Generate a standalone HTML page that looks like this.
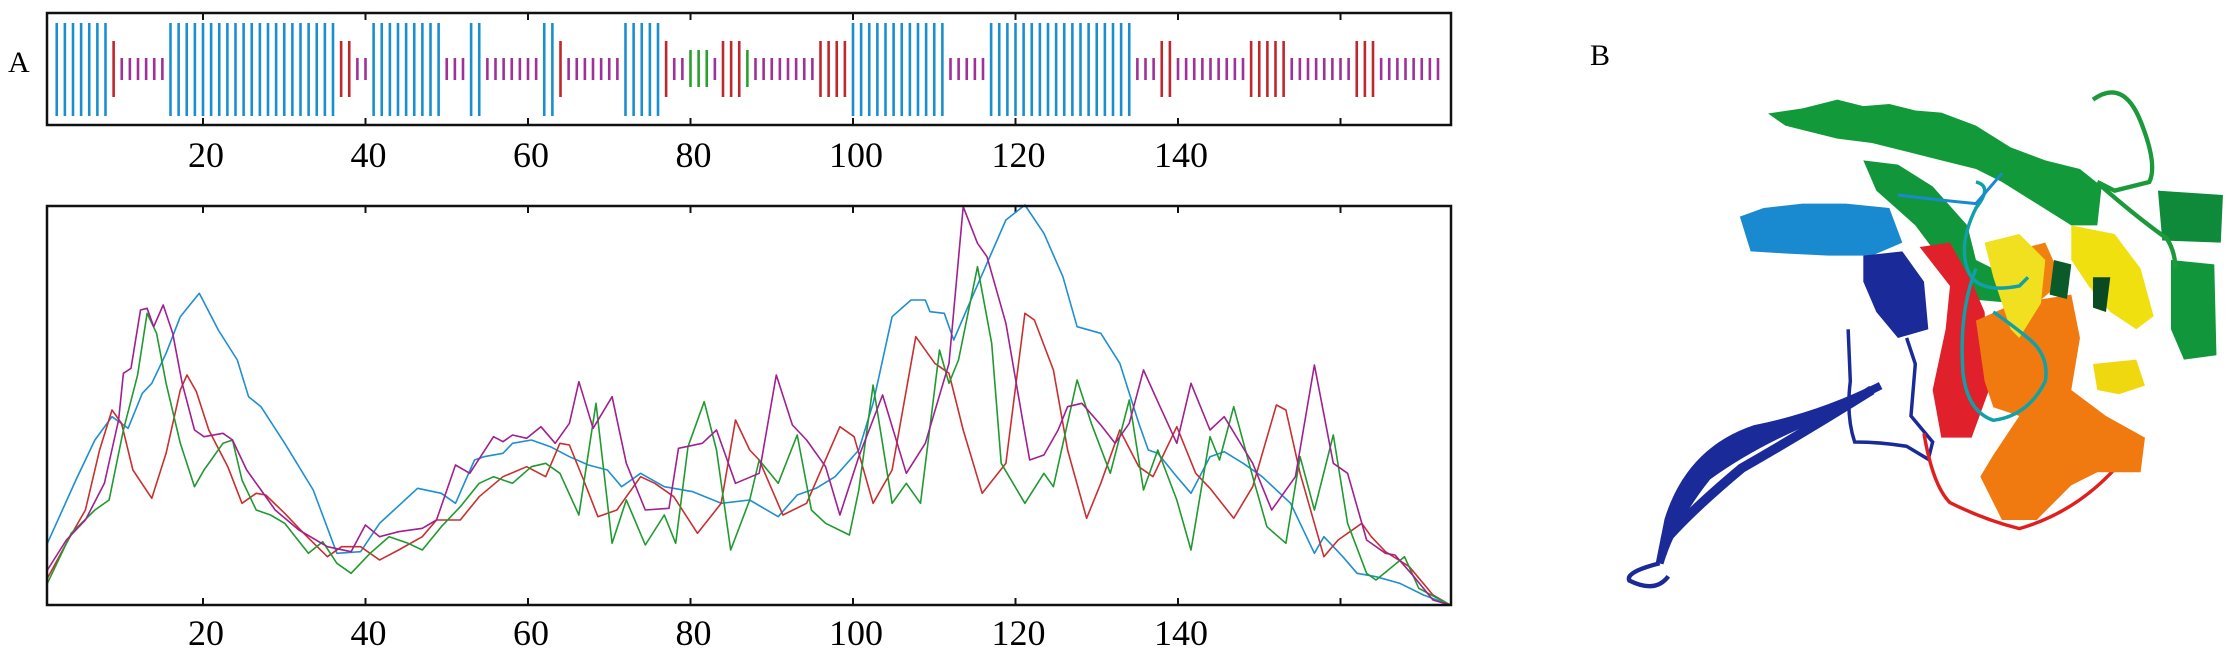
<!DOCTYPE html>
<html><head><meta charset="utf-8"><style>
html,body{margin:0;padding:0;background:#fff;}
body{width:2236px;height:662px;overflow:hidden;}
svg{display:block}
text{font-family:"Liberation Serif",serif;fill:#000}
</style></head><body>
<svg id="s" width="2236" height="662" xmlns="http://www.w3.org/2000/svg">
<rect width="2236" height="662" fill="#fff"/>
<g id="bars"></g>
<rect x="47" y="13" width="1404" height="112" fill="none" stroke="#111" stroke-width="2.5"/>
<g id="ticks"></g>
<text x="8" y="72" font-size="30">A</text>
<g id="lab1" font-size="36" text-anchor="middle"></g>
<g id="lines" fill="none" stroke-width="1.6" stroke-linejoin="round"></g>
<rect x="47" y="206" width="1404" height="399" fill="none" stroke="#111" stroke-width="2.5"/>
<g id="lab2" font-size="36" text-anchor="middle"></g>
<text x="1590" y="65" font-size="30">B</text>
<g transform="translate(1560,0) scale(0.4333)">
 <path d="M480,262 L560,250 L600,240 L640,230 L700,245 L760,240 L820,255 L880,260 L960,290 L1040,340 L1120,370 L1200,390 L1250,430 L1240,520 L1180,520 L1100,470 L1020,420 L960,390 L880,370 L800,350 L720,330 L640,320 L560,300 L520,290 Z" fill="#129a3a"/>
 <path d="M700,370 L780,380 L860,430 L940,520 L960,600 L1060,650 L1050,700 L940,690 L880,600 L820,520 L730,440 Z" fill="#11963c"/>
 <path d="M1230,230 Q1300,180 1340,280 Q1380,380 1360,420 L1280,440 L1240,420" fill="none" stroke="#1a9a3a" stroke-width="10"/>
 <path d="M1380,440 L1530,450 L1525,560 L1390,555 Z" fill="#0f8a3a"/>
 <path d="M1410,600 L1510,610 L1515,820 L1440,830 L1410,760 Z" fill="#11963c"/>
 <path d="M1250,430 Q1330,500 1400,550 Q1420,580 1420,620" fill="none" stroke="#1a9a3a" stroke-width="10"/>
 <path d="M415,500 L470,480 L560,470 L660,470 L760,480 L790,560 L720,590 L620,590 L520,585 L440,580 Z" fill="#1a8ad0"/>
 <path d="M700,590 L790,580 L840,650 L850,760 L780,780 L730,720 L700,650 Z" fill="#1a2a98"/>
 <path d="M740,890 Q600,960 450,990 Q300,1040 250,1200 L230,1300 Q260,1200 340,1100 Q450,1020 600,960 Q680,920 740,890 Z" fill="#1a2a98" stroke="#1a2a98" stroke-width="18"/>
 <path d="M720,900 Q560,1000 420,1080 Q300,1180 240,1250" fill="none" stroke="#1a2a98" stroke-width="22"/>
 <path d="M230,1300 Q150,1320 160,1340 Q220,1370 250,1330" fill="none" stroke="#1a2a98" stroke-width="10"/>
 <path d="M665,760 L670,880 Q660,960 680,1020 Q740,1020 800,1030 L850,1060 L860,1020 L810,960 L820,840 L800,780" fill="none" stroke="#1a2a98" stroke-width="8"/>
 <path d="M830,570 L900,560 L950,650 L980,720 L990,900 L950,1010 L880,1010 L860,900 L890,760 L900,660 Z" fill="#e0202a"/>
 <path d="M840,1000 Q860,1120 900,1160 Q980,1200 1060,1220 Q1200,1180 1300,1060" fill="none" stroke="#e02020" stroke-width="8"/>
 <path d="M960,740 L1050,700 L1180,680 L1200,780 L1180,900 L1260,960 L1350,1010 L1340,1090 L1240,1090 L1180,1120 L1100,1200 L1020,1200 L970,1100 L1000,1050 L1060,960 L1000,940 L980,880 Z" fill="#f07a10"/>
 <path d="M1040,580 L1120,560 L1160,650 L1100,700 L1040,680 Z" fill="#f08010"/>
 <path d="M980,560 L1060,540 L1120,600 L1110,700 L1060,780 L1040,760 L1000,640 Z" fill="#f0e020"/>
 <path d="M1180,520 L1280,540 L1340,620 L1370,730 L1330,760 L1270,720 L1220,660 L1180,600 Z" fill="#f0e010"/>
 <path d="M1230,840 L1330,830 L1350,890 L1290,910 L1240,900 Z" fill="#f0d810"/>
 <path d="M1140,600 L1180,610 L1170,690 L1130,680 Z" fill="#0a5a2a"/>
 <path d="M1230,640 L1270,640 L1260,720 L1230,710 Z" fill="#0a4a22"/>
 <path d="M960,420 Q1000,430 960,480 Q920,560 940,620 Q960,680 1060,660 L1080,640 M960,620 Q920,720 930,860 Q940,950 1000,970 Q1080,960 1120,880 Q1130,820 1080,780 Q1030,740 1000,720" fill="none" stroke="#10a0a8" stroke-width="8"/>
 <path d="M780,450 Q860,460 960,470 L1020,400" fill="none" stroke="#1a8ad0" stroke-width="7"/>
</g>
</svg>
<script>
(function(){
var NS="http://www.w3.org/2000/svg";
function el(p,t,a,txt){var e=document.createElementNS(NS,t);for(var k in a)e.setAttribute(k,a[k]);if(txt)e.textContent=txt;p.appendChild(e);return e;}
function X(i){return 40.5+8.125*i;}
var segs=[[2,8,'b'],[9,9,'r'],[10,15,'m'],[16,36,'b'],[37,38,'r'],[39,40,'m'],[41,49,'b'],[50,52,'m'],[53,54,'b'],[55,61,'m'],[62,63,'b'],[64,64,'r'],[65,71,'m'],[72,76,'b'],[77,77,'r'],[78,79,'m'],[80,82,'g'],[83,83,'m'],[84,86,'r'],[87,87,'g'],[88,95,'m'],[96,99,'r'],[100,111,'b'],[112,116,'m'],[117,134,'b'],[135,137,'m'],[138,139,'r'],[140,148,'m'],[149,153,'r'],[154,161,'m'],[162,164,'r'],[165,172,'m']];
var sty={b:['#1a8fd0',23,116],r:['#c0272d',41,97],m:['#a0309a',58,80],g:['#2ca02c',50,87]};
var bars=document.getElementById('bars');
segs.forEach(function(s){for(var i=s[0];i<=s[1];i++){var c=sty[s[2]];el(bars,'line',{x1:X(i),x2:X(i),y1:c[1],y2:c[2],stroke:c[0],'stroke-width':2.6});}});
var tk=document.getElementById('ticks'),l1=document.getElementById('lab1'),l2=document.getElementById('lab2');
for(var v=20;v<=160;v+=20){var x=X(v);
 el(tk,'line',{x1:x,x2:x,y1:13,y2:20,stroke:'#111','stroke-width':2});
 el(tk,'line',{x1:x,x2:x,y1:118,y2:125,stroke:'#111','stroke-width':2});
 el(tk,'line',{x1:x,x2:x,y1:206,y2:213,stroke:'#111','stroke-width':2});
 el(tk,'line',{x1:x,x2:x,y1:598,y2:605,stroke:'#111','stroke-width':2});
 if(v<160){el(l1,'text',{x:x+3,y:167},String(v));el(l2,'text',{x:x+3,y:645},String(v));}
}
var S={
'#1f8fd0':[50,1060,80,870,100,750,118,680,135,715,150,610,160,580,175,490,190,380,210,310,230,420,250,510,262,620,275,650,300,760,330,900,355,1090,380,1085,400,1000,440,895,465,910,480,940,500,810,510,800,530,790,540,760,560,750,580,770,600,800,620,825,640,840,655,890,675,850,700,890,730,905,760,940,790,930,820,980,840,915,860,895,880,860,905,780,920,640,940,380,960,330,975,330,980,365,995,370,1005,450,1020,350,1040,220,1060,90,1080,45,1100,130,1120,260,1135,410,1160,430,1180,520,1200,700,1210,780,1220,790,1240,860,1255,910,1275,800,1290,785,1310,820,1330,860,1360,940,1385,1090,1395,1040,1415,1100,1430,1150,1450,1160,1475,1180,1500,1215,1528,1245],
'#c83030':[50,1165,70,1060,90,960,105,780,118,660,128,700,140,840,160,925,175,790,190,600,197,555,207,605,220,720,240,830,255,940,270,910,280,915,300,970,320,1030,345,1100,360,1070,380,1070,400,1110,420,1080,445,1040,460,990,485,990,505,920,530,860,555,830,575,860,590,760,600,765,615,870,630,980,650,960,675,860,690,880,710,920,735,1030,760,940,775,690,790,780,800,810,825,975,850,940,885,710,900,740,920,940,940,840,965,440,985,520,1000,550,1015,720,1035,910,1060,820,1080,370,1090,390,1110,540,1125,780,1145,985,1160,880,1180,720,1200,830,1215,860,1240,710,1260,850,1275,895,1300,985,1320,890,1345,645,1355,660,1370,850,1395,1100,1410,1050,1435,1000,1445,1040,1460,1085,1485,1130,1510,1215,1528,1245],
'#209a30':[50,1180,75,1030,100,960,115,930,130,720,145,555,155,370,165,430,175,580,190,760,205,890,215,840,235,760,245,750,255,870,270,960,285,975,300,1000,325,1090,340,1055,355,1120,370,1150,390,1090,410,1040,430,1060,445,1080,465,1010,485,950,505,880,520,860,540,880,560,830,575,820,590,850,610,975,628,640,645,1060,660,930,680,1065,700,975,712,1060,725,770,742,635,755,780,770,1080,790,930,800,810,820,880,840,735,855,960,870,1000,895,1035,905,900,920,585,940,940,955,880,970,940,990,480,1000,580,1010,510,1030,230,1045,460,1055,820,1080,940,1100,850,1110,890,1135,570,1150,700,1170,850,1190,630,1205,900,1220,780,1240,930,1255,1080,1275,740,1285,810,1300,650,1320,860,1335,1010,1355,1060,1370,800,1385,960,1405,735,1420,1000,1440,1150,1450,1170,1480,1100,1495,1195,1528,1245],
'#a02090':[50,1140,70,1050,90,990,110,880,125,690,130,550,138,535,148,360,155,355,162,410,172,345,182,430,192,580,205,720,215,740,235,730,245,750,260,840,275,900,290,960,315,1020,345,1070,370,1085,385,1005,400,1040,420,1025,445,1015,460,990,480,825,495,850,520,740,530,755,540,735,555,745,570,710,585,760,600,700,610,575,625,715,645,620,660,820,680,960,705,955,715,775,740,760,755,720,775,880,800,850,818,555,835,705,850,750,870,830,885,975,905,800,930,615,955,850,975,760,1000,520,1015,50,1030,160,1040,200,1060,400,1080,730,1085,810,1100,795,1115,720,1125,650,1140,640,1160,705,1175,760,1190,700,1205,540,1220,635,1240,760,1255,580,1275,720,1290,680,1305,750,1320,820,1340,960,1365,860,1385,525,1405,820,1420,850,1440,1050,1460,1090,1470,1095,1490,1160,1510,1230,1528,1245]
};
var g=document.getElementById('lines');
for(var c in S){var a=S[c],p=[];for(var i=0;i<a.length;i+=2){p.push((a[i]*0.949).toFixed(1)+','+(190+a[i+1]/3).toFixed(1));}
 el(g,'polyline',{points:p.join(' '),stroke:c});}
})();
</script>
</body></html>
